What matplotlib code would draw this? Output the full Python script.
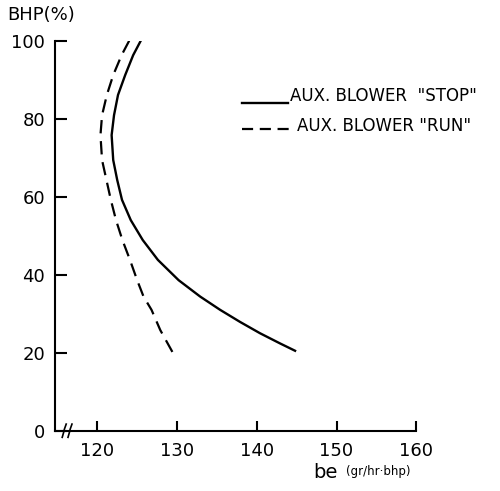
import numpy as np
import matplotlib
matplotlib.use("Agg")
import matplotlib.pyplot as plt

# readings
bhp_stop = [100, 96.3, 91.2, 86.1, 80.9, 75.8, 69.4, 64.3, 59.2, 54.0, 48.9, 43.8, 38.6,
            34.4, 31.0, 27.9, 25.0, 22.4, 20.5]
be_stop = [125.45, 124.5, 123.5, 122.6, 122.1, 121.8, 122.0, 122.5, 123.1, 124.2, 125.7,
           127.6, 130.2, 132.9, 135.4, 137.9, 140.4, 142.9, 144.8]

bhp_run = [100, 96.3, 91.2, 86.1, 80.9, 75.8, 69.4, 64.3, 59.2, 54.0, 48.9, 43.8, 38.6,
           34.4, 31.0, 25.8, 19.9]
be_run = [124.0, 123.05, 122.0, 121.2, 120.6, 120.4, 120.6, 121.15, 121.7, 122.35, 123.15,
          124.1, 125.0, 125.8, 126.8, 127.9, 129.5]

x_ticks = [120, 130, 140, 150, 160]
y_ticks = [0, 20, 40, 60, 80, 100]

fig = plt.figure(figsize=(5.0, 4.91), dpi=100)
ax = fig.add_axes([0.11, 0.1228, 0.7226, 0.7942])

ax.plot(be_stop, bhp_stop, color='black', lw=1.7, solid_joinstyle='round')
ax.plot(be_run, bhp_run, color='black', lw=1.6, dashes=[6, 3.5])

ax.set_xlim(114.7, 160)
ax.set_ylim(0, 100)
for s in ['top', 'right']:
    ax.spines[s].set_visible(False)
for s in ['left', 'bottom']:
    ax.spines[s].set_linewidth(1.5)

ax.set_xticks(x_ticks)
ax.set_yticks(y_ticks)
ax.tick_params(axis='x', direction='in', length=7, width=1.5, pad=8, labelsize=13)
ax.tick_params(axis='y', direction='in', length=8.5, width=1.5, pad=7, labelsize=13)

# axis break mark
for x0 in [0.02, 0.036]:
    ax.plot([x0, x0 + 0.004, x0 + 0.006, x0 + 0.011], [-0.017, -0.004, 0.004, 0.017],
            color='black', lw=1.2, transform=ax.transAxes, clip_on=False)

# legend drawn by hand
ax.plot([0.517, 0.646], [0.840, 0.840], color='black', lw=1.7,
        transform=ax.transAxes, clip_on=False)
ax.text(0.650, 0.858, 'AUX. BLOWER  "STOP"', fontsize=12, va='center', ha='left',
        transform=ax.transAxes, clip_on=False)
ax.plot([0.517, 0.655], [0.773, 0.773], color='black', lw=1.6, dashes=[5, 3],
        transform=ax.transAxes, clip_on=False)
ax.text(0.669, 0.781, 'AUX. BLOWER "RUN"', fontsize=12, va='center', ha='left',
        transform=ax.transAxes, clip_on=False)

fig.text(7 / 500, 1 - 15 / 491, 'BHP(%)', fontsize=13, va='center', ha='left')
fig.text(313 / 500, 1 - 473 / 491, 'be', fontsize=14, va='center', ha='left')
fig.text(346 / 500, 1 - 472 / 491, '(gr/hr·bhp)', fontsize=8.5, va='center', ha='left')

fig.savefig('out.png', dpi=100)
